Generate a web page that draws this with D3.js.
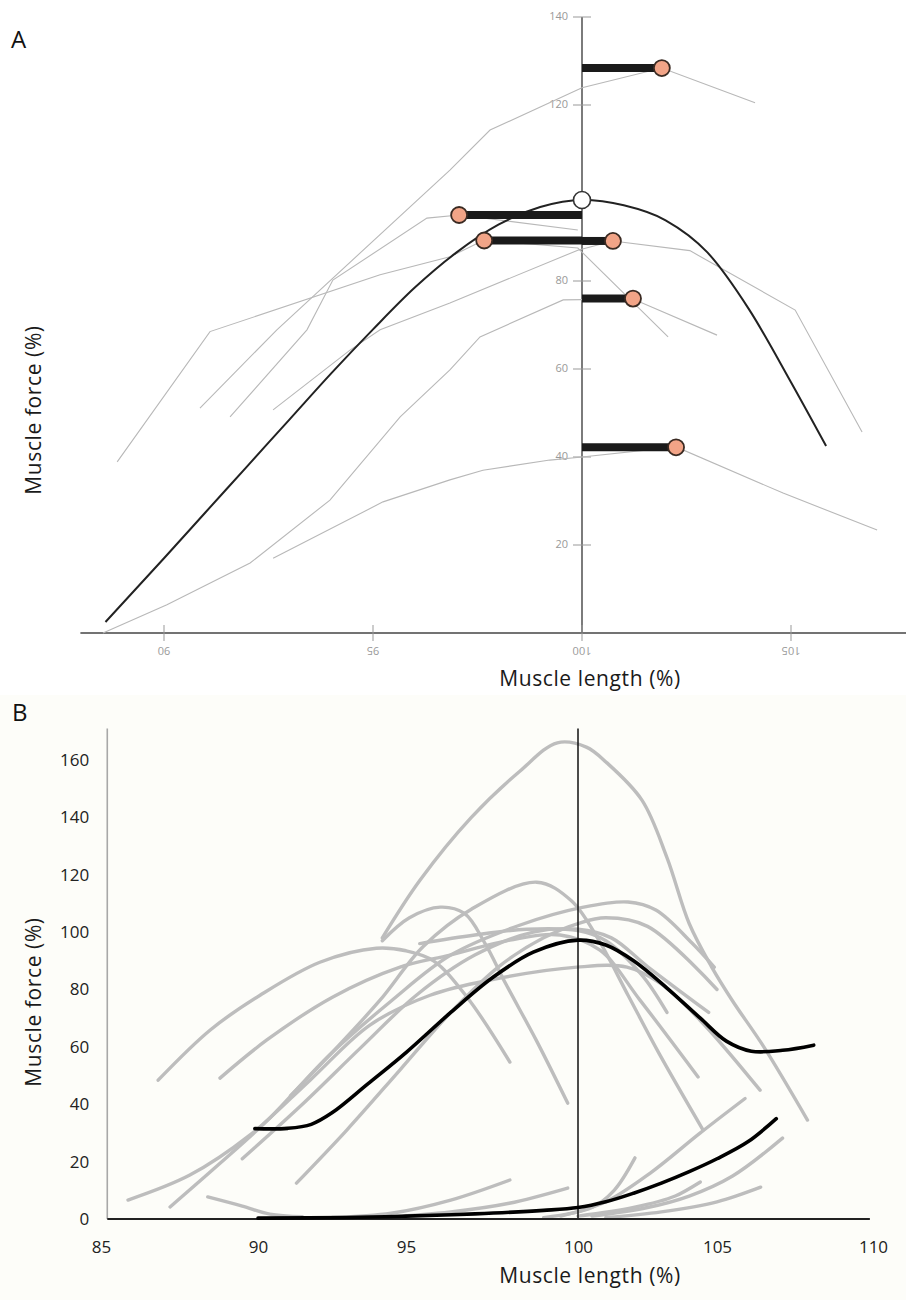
<!DOCTYPE html>
<html>
<head>
<meta charset="utf-8">
<script src="https://cdn.jsdelivr.net/npm/d3@7"></script>
<style>
  body { margin: 0; background: #fff; }
  text { font-family: "Open Sans", sans-serif; }
</style>
</head>
<body>
<svg id="chart" width="906" height="1300"></svg>
<script>
// ---------- panel A data ----------
const aTicksX = [90, 95, 100, 105];
const aTicksY = [20, 40, 60, 80, 120, 140];

// mean length-force curve
const aMeanCurve = [[88.6,2.5],[90,17],[91,27.5],[92,38],[93,48.5],[94,59],[95,69],[96,78.5],[97,86.5],[98,92.8],
  [99,96.8],[100,98.4],[101,97.2],[102,93.8],[103,86.5],[104,73.5],[105,57],[105.84,42.5]];
const aMeanPeak = [100, 98.4];

// individual curves (thin grey)
const aCurves = [
  [[90.86,51.1],[92.70,68.9],[96.84,105.2],[97.80,114.3],[100.0,123.9],[101.91,128.4],[104.14,120.5]],
  [[91.58,49.1],[93.42,68.9],[94.04,80.2],[96.29,94.3],[97.06,95.0],[99.9,91.6]],
  [[88.88,38.9],[91.1,68.5],[95.17,81.4],[96.84,85.5],[97.66,89.3],[99.9,87.5],[102.06,67.3]],
  [[92.61,50.7],[94.45,64.3],[95.17,68.9],[96.84,75.0],[99.9,87.0],[100.74,89.1],[102.58,86.9],[105.10,73.4],[106.70,45.7]],
  [[88.54,0],[90.07,6.4],[92.06,15.9],[93.97,30.2],[95.65,49.1],[96.84,59.8],[97.56,67.3],[99.55,75.7],[101.22,75.9],[103.23,67.7]],
  [[92.61,17.0],[95.24,29.8],[96.84,34.8],[97.63,37.0],[99.23,39.3],[100,40.0],[102.25,42.3],[104.81,31.8],[107.06,23.4]]
];
// optimum of each curve
const aPeakLen = [101.91, 97.06, 97.66, 100.74, 101.22, 102.25];
const aPeakForce = [128.4, 95.0, 89.2, 89.1, 76.0, 42.2];

// ---------- panel B data ----------
const bTicksX = [85, 90, 95, 100, 105, 110];
const bTicksY = [0, 20, 40, 60, 80, 100, 120, 140, 160];

const bMeanActive = [[89.9,31.5],[91,31.6],[91.8,33],[92.5,37],[93.7,47],[95,58],[96.3,72],[97.5,84],[98.7,93],
  [100,97.2],[101,95.5],[102,90],[103.2,80.5],[104.4,70],[105.3,62],[106.1,58.5],[107.1,58.8],[108.1,60.6]];
const bMeanPassive = [[90,0.3],[93,0.5],[95,1],[97,1.8],[99,3],[100,4],[101,6],[102,9],[103,12.5],[104,16.5],
  [105,21],[106,27],[106.9,35]];

const bActiveCurves = [
  [[94.2,98],[95.4,118],[96.9,140],[98.3,156],[99.4,166],[100.3,164.5],[101.04,159],[102.3,146],[103.2,126],[104.0,103],[104.8,88],[105.5,76],[106.5,60],[107.9,34.5]],
  [[94.2,97],[95.1,105],[96.0,108.7],[96.7,106.5],[97.3,96],[97.9,82],[98.8,62],[99.7,40.4]],
  [[91.1,43],[92.5,58],[94.1,76],[95.5,95],[96.9,108],[98.8,117.4],[99.8,111],[100.7,98],[101.8,78],[102.9,58],[104.5,31]],
  [[87.2,4.2],[88.8,19.5],[90.4,35.2],[92.4,57],[94.5,76],[96.3,92],[98.3,102.4],[100.2,108.7],[101.8,110.5],[102.8,107.7],[104.1,96.2],[104.9,87.8]],
  [[85.86,6.6],[87.83,15.3],[89.75,29.3],[91.76,48.4],[93.78,67.6],[95.7,78],[97.44,83.3],[99.97,87.8],[101.76,87.8],[102.95,82.2],[104.39,69.3],[106.38,44.9]],
  [[86.82,48.4],[88.48,65.9],[90.07,78],[92.09,89.5],[94.0,94.4],[95.0,93.5],[95.8,90],[96.77,77.4],[98.02,54.7]],
  [[88.79,49.1],[90.3,62.4],[92.53,77.4],[94.8,87.8],[96.28,92],[98.02,97.2],[99.48,99],[100.79,93.7],[102.23,76.3],[104.32,49.5]],
  [[89.5,21],[91.5,40],[93.5,60],[95.3,78],[97,92],[98.7,100],[100,101],[101.2,98],[102.5,88],[104.7,72]],
  [[91.3,12.5],[93,31],[94.8,52],[96.3,72],[97.7,88],[99,98],[100,103],[101,105],[102.5,102],[105.0,80]],
  [[95.4,96],[97,99],[98.5,101],[100,100.5],[101,97],[102.3,85],[103.2,72]]
];
const bPassiveCurves = [
  [[88.4,7.7],[89.5,4.5],[90.4,1.7],[91.5,0.8]],
  [[92.5,0.5],[94.5,2],[96.3,6.6],[98.02,13.6]],
  [[94,0.5],[96.3,2.5],[98,5.5],[99.7,10.8]],
  [[99,0.5],[100.5,4],[101.3,10],[102.05,21.3]],
  [[99.5,1],[101,6],[102.6,16],[104.4,30],[105.9,42]],
  [[100.5,1],[102.5,4],[104,8],[105.5,15],[107.1,28.2]],
  [[101,0.5],[103,2.5],[105,6],[106.4,11.1]],
  [[100,1],[102,4],[103.5,8],[104.4,12.9]]
];

// ---------- drawing ----------
const svg = d3.select("#chart");

// panel A
const xA = d3.scaleLinear().domain([90, 105]).range([164, 791]);
const yA = d3.scaleLinear().domain([0, 140]).range([633, 17]);
const gA = svg.append("g");

gA.append("text").attr("x", 11).attr("y", 48).attr("font-size", 24).attr("fill", "#111").text("A");

gA.append("line")
  .attr("x1", xA(88)).attr("x2", 906).attr("y1", yA(0)).attr("y2", yA(0))
  .attr("stroke", "#444").attr("stroke-width", 1.4);
gA.append("line")
  .attr("x1", xA(100)).attr("x2", xA(100)).attr("y1", yA(0)).attr("y2", yA(140))
  .attr("stroke", "#444").attr("stroke-width", 1.4);

gA.selectAll(".xtick").data(aTicksX).join("line")
  .attr("x1", d => xA(d)).attr("x2", d => xA(d))
  .attr("y1", yA(0) - 8).attr("y2", yA(0) + 8)
  .attr("stroke", "#999").attr("stroke-width", 1);
// labels are printed upside down in the source figure
gA.selectAll(".xlab").data(aTicksX).join("text")
  .attr("transform", d => `translate(${xA(d)},${yA(0) + 17}) rotate(180)`)
  .attr("text-anchor", "middle").attr("dominant-baseline", "middle")
  .attr("font-size", 11).attr("fill", "#999").text(d => d);

gA.selectAll(".ytick").data(aTicksY).join("line")
  .attr("x1", xA(100) - 9).attr("x2", xA(100) + 9)
  .attr("y1", d => yA(d)).attr("y2", d => yA(d))
  .attr("stroke", "#999").attr("stroke-width", 1);
gA.selectAll(".ylab").data(aTicksY).join("text")
  .attr("x", xA(100) - 14).attr("y", d => yA(d))
  .attr("text-anchor", "end").attr("dominant-baseline", "middle")
  .attr("font-size", 11).attr("fill", "#999").text(d => d);

const lineA = d3.line().x(d => xA(d[0])).y(d => yA(d[1]));
gA.selectAll(".acurve").data(aCurves).join("path")
  .attr("d", lineA).attr("fill", "none")
  .attr("stroke", "#b8b8b8").attr("stroke-width", 1.1);

gA.append("path").datum(aMeanCurve)
  .attr("d", lineA.curve(d3.curveMonotoneX))
  .attr("fill", "none").attr("stroke", "#222").attr("stroke-width", 2);

// shift of optimum length: bar from 100 % to the optimum
const peaks = aPeakLen.map((l, i) => ({ len: l, force: aPeakForce[i] }));
gA.selectAll(".bar").data(peaks).join("line")
  .attr("x1", xA(100)).attr("x2", d => xA(d.len))
  .attr("y1", d => yA(d.force)).attr("y2", d => yA(d.force))
  .attr("stroke", "#1a1a1a").attr("stroke-width", 8);
gA.selectAll(".peak").data(peaks).join("circle")
  .attr("cx", d => xA(d.len)).attr("cy", d => yA(d.force)).attr("r", 8)
  .attr("fill", "#f2a487").attr("stroke", "#3a2a22").attr("stroke-width", 1.8);
gA.append("circle")
  .attr("cx", xA(aMeanPeak[0])).attr("cy", yA(aMeanPeak[1])).attr("r", 8.5)
  .attr("fill", "#fff").attr("stroke", "#333").attr("stroke-width", 1.6);

gA.append("text").attr("x", 590).attr("y", 686).attr("text-anchor", "middle")
  .attr("font-size", 21).attr("letter-spacing", 0.6).attr("fill", "#1a1a1a").text("Muscle length (%)");
gA.append("text").attr("transform", "translate(41,410) rotate(-90)").attr("text-anchor", "middle")
  .attr("font-size", 21).attr("letter-spacing", 0.6).attr("fill", "#1a1a1a").text("Muscle force (%)");

// panel B
const gB = svg.append("g");
gB.append("rect").attr("x", 0).attr("y", 695).attr("width", 906).attr("height", 605).attr("fill", "#fdfdf9");
const xB = d3.scaleLinear().domain(bTicksX).range([101, 258, 406, 578, 717, 873]);
const yB = d3.scaleLinear().domain([0, 160]).range([1219, 760]);

gB.append("text").attr("x", 12).attr("y", 721).attr("font-size", 24).attr("fill", "#111").text("B");

const lineB = d3.line().x(d => xB(d[0])).y(d => yB(d[1])).curve(d3.curveCatmullRom.alpha(0.5));

gB.selectAll(".bp").data(bPassiveCurves).join("path")
  .attr("d", lineB).attr("fill", "none")
  .attr("stroke", "#bdbdbd").attr("stroke-width", 3.4).attr("stroke-linecap", "round");
gB.selectAll(".ba").data(bActiveCurves).join("path")
  .attr("d", lineB).attr("fill", "none")
  .attr("stroke", "#bdbdbd").attr("stroke-width", 3.4).attr("stroke-linecap", "round");

gB.append("line")
  .attr("x1", xB(85.2)).attr("x2", xB(85.2)).attr("y1", yB(0)).attr("y2", yB(171))
  .attr("stroke", "#a8a8a8").attr("stroke-width", 1.6);
gB.append("line")
  .attr("x1", xB(100)).attr("x2", xB(100)).attr("y1", yB(0)).attr("y2", yB(171))
  .attr("stroke", "#111").attr("stroke-width", 1.5);
gB.append("line")
  .attr("x1", xB(85.2)).attr("x2", xB(109.9)).attr("y1", yB(0)).attr("y2", yB(0))
  .attr("stroke", "#222").attr("stroke-width", 2);

gB.selectAll(".bm").data([bMeanActive, bMeanPassive]).join("path")
  .attr("d", lineB).attr("fill", "none")
  .attr("stroke", "#000").attr("stroke-width", 3.6).attr("stroke-linecap", "round");

const axY = gB.append("g").attr("transform", `translate(${xB(85.2)},0)`)
  .call(d3.axisLeft(yB).tickValues(bTicksY).tickSize(0).tickPadding(18));
axY.select(".domain").remove();
axY.attr("font-family", "Open Sans, sans-serif").attr("font-size", 17);
axY.selectAll("text").attr("fill", "#222");

const axX = gB.append("g").attr("transform", `translate(0,${yB(0)})`)
  .call(d3.axisBottom(xB).tickValues(bTicksX).tickSize(0).tickPadding(22));
axX.select(".domain").remove();
axX.attr("font-family", "Open Sans, sans-serif").attr("font-size", 17);
axX.selectAll("text").attr("fill", "#222");

gB.append("text").attr("x", 590).attr("y", 1283).attr("text-anchor", "middle")
  .attr("font-size", 21).attr("letter-spacing", 0.6).attr("fill", "#1a1a1a").text("Muscle length (%)");
gB.append("text").attr("transform", "translate(41,1002) rotate(-90)").attr("text-anchor", "middle")
  .attr("font-size", 21).attr("letter-spacing", 0.6).attr("fill", "#1a1a1a").text("Muscle force (%)");
</script>
</body>
</html>
